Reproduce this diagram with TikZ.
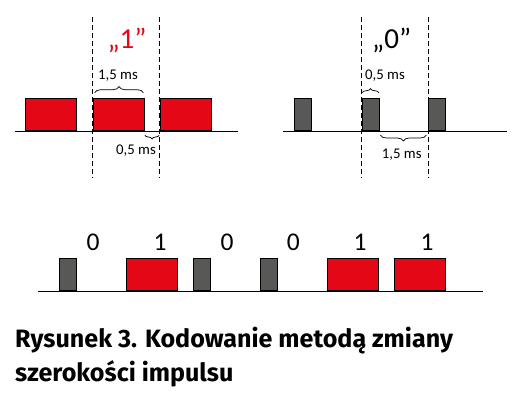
\documentclass[tikz,border=0pt]{standalone}
\usepackage{fontspec}
\setmainfont{Carlito}
\newfontfamily\capfont{Fira Sans}
\usepackage{tikz}
\usetikzlibrary{decorations.pathreplacing, positioning}
\definecolor{pred}{RGB}{228,8,22}
\definecolor{pgray}{RGB}{88,88,86}

\begin{document}
\begin{tikzpicture}[x=1pt,y=-1pt,
	pulse/.style={draw=black, line width=0.8pt, anchor=south west, inner sep=0pt, minimum height=32.5pt},
	longpulse/.style={pulse, fill=pred, minimum width=50.8pt},
	shortpulse/.style={pulse, fill=pgray, minimum width=16.8pt},
	base/.style={line width=1pt},
	dashline/.style={line width=0.8pt, dash pattern=on 5pt off 3pt},
	brace/.style={decorate, decoration={brace, amplitude=#1}, line width=0.7pt},
	lowbrace/.style={decorate, decoration={brace, mirror, amplitude=#1}, line width=0.7pt},
	small/.style={font=\fontsize{14.8}{16}\selectfont},
	bit/.style={font=\fontsize{25.5}{27}\selectfont}]
	\useasboundingbox (0,0) rectangle (521,397);

	% "1" = 1,5 ms on, 0,5 ms off
	\draw[base] (15,131) -- (238,131);
	\node (a1) [longpulse] at (25,131){};
	\node (a2) [longpulse] at (92.7,131){};
	\node (a3) [longpulse] at (159.7,131){};
	\draw[dashline] (92.3,17) -- (92.3,178);
	\draw[dashline] (159.3,17) -- (159.3,178);
	\node (one) [pred, font=\fontsize{29}{31}\selectfont] at (127,40){„1”};
	\draw[brace=6pt] ([xshift=2pt,yshift=5pt]a2.north west) -- ([xshift=-1pt,yshift=5pt]a2.north east);
	\node (t1) [small] at (118,76){1,5 ms};
	\draw[lowbrace=4pt] ([xshift=0.5pt,yshift=-4pt]a2.south east) -- ([xshift=-0.5pt,yshift=-4pt]a3.south west);
	\node (t2) [small] at (136,151){0,5 ms};

	% "0" = 0,5 ms on, 1,5 ms off
	\draw[base] (283.3,131) -- (506.7,131);
	\node (b1) [shortpulse] at (294.3,131){};
	\node (b2) [shortpulse] at (361.7,131){};
	\node (b3) [shortpulse] at (428.3,131){};
	\draw[dashline] (361,17) -- (361,178);
	\draw[dashline] (428.3,17) -- (428.3,178);
	\node (zero) [font=\fontsize{29}{31}\selectfont] at (391.7,40){„0”};
	\draw[brace=4pt] ([xshift=0.5pt,yshift=5pt]b2.north west) -- ([xshift=-0.5pt,yshift=5pt]b2.north east);
	\node (t3) [small] at (385,76){0,5 ms};
	\draw[lowbrace=6pt] ([xshift=1pt,yshift=-4pt]b2.south east) -- ([xshift=-2pt,yshift=-4pt]b3.south west);
	\node (t4) [small] at (401.7,155){1,5 ms};

	% 0 1 0 0 1 1
	\draw[base] (38.3,291) -- (483.3,291);
	\node (c1) [shortpulse] at (59.3,291){};
	\node (c2) [longpulse] at (126.3,291){};
	\node (c3) [shortpulse] at (193.3,291){};
	\node (c4) [shortpulse] at (260.3,291){};
	\node (c5) [longpulse] at (327.3,291){};
	\node (c6) [longpulse] at (394.3,291){};
	\node (d1) [bit] at (93,242){0};
	\node (d2) [bit] at (160,242){1};
	\node (d3) [bit] at (227,242){0};
	\node (d4) [bit] at (293.3,242){0};
	\node (d5) [bit] at (360,242){1};
	\node (d6) [bit] at (427,242){1};

	% caption
	\node (cap1) [anchor=base west, inner sep=0pt, font=\capfont\bfseries\fontsize{25.1}{27}\selectfont] at (15,347.5){Rysunek 3. Kodowanie metodą zmiany};
	\node (cap2) [anchor=base west, inner sep=0pt, font=\capfont\bfseries\fontsize{25.1}{27}\selectfont] at (15,381){szerokości impulsu};
\end{tikzpicture}
\end{document}
